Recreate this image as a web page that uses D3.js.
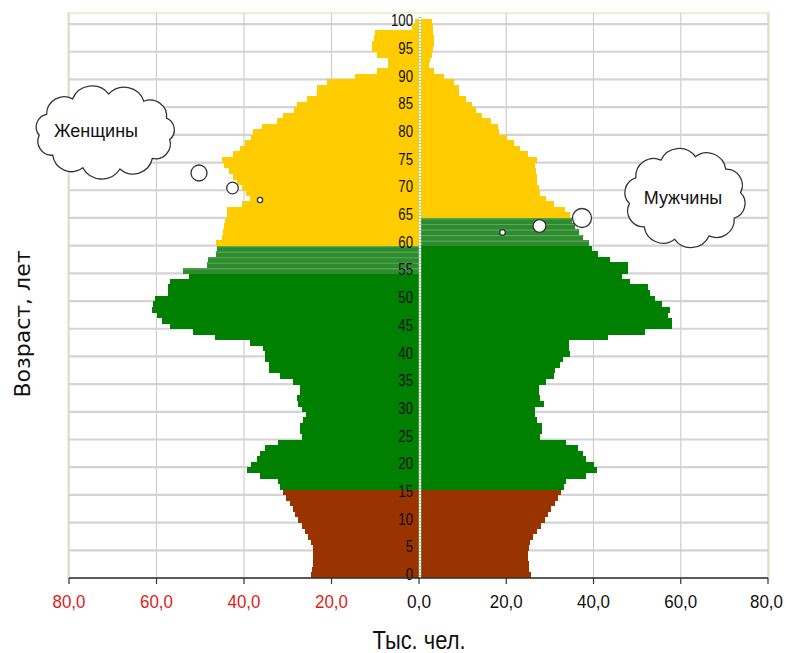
<!DOCTYPE html>
<html><head><meta charset="utf-8">
<script src="https://cdn.jsdelivr.net/npm/d3@7"></script>
<style>body{margin:0;background:#fff}svg{display:block}</style>
</head><body>
<svg id="c" width="786" height="653"></svg>
<script>
// ---- data ----
const ages = d3.range(0, 101);
const female = [24.7,24.5,24.3,24.2,24.2,24.3,24.7,25.3,26.1,26.8,
 27.6,28.3,28.9,29.6,30.4,31.0,31.8,32.2,36.3,39.4,
 38.3,37.1,36.3,35.2,32.2,26.8,27.3,27.2,26.5,25.9,
 26.8,27.6,28.0,27.2,27.2,28.7,31.8,34.4,34.4,35.2,
 35.2,35.6,38.6,46.6,51.6,56.9,58.8,60.0,61.1,60.7,
 60.3,57.3,57.3,56.9,52.5,53.9,48.5,48.2,46.5,46.2,
 46.4,45.0,44.8,44.5,44.3,44.0,44.0,40.5,38.6,39.5,
 40.5,41.5,42.5,43.5,44.5,45.1,42.5,40.9,39.8,38.5,
 38.0,36.0,32.5,31.0,28.5,28.0,25.7,23.4,23.4,21.1,
 14.6,9.7,7.0,7.0,9.7,10.8,10.8,10.2,10.0,1.5,1.0];
const male = [25.6,25.3,25.2,25.0,25.0,25.2,25.5,26.1,27.0,28.0,
 28.8,29.5,30.3,31.1,31.8,32.6,33.3,33.8,38.3,40.9,
 40.2,38.3,37.5,36.4,33.8,27.7,28.3,28.1,27.0,26.5,
 26.7,28.6,27.8,27.4,27.4,29.0,30.9,31.2,32.4,33.1,
 34.7,34.3,34.3,43.4,51.8,57.9,57.9,57.1,57.5,55.6,
 54.1,53.0,52.6,48.4,46.5,48.0,48.0,43.8,41.0,39.6,
 38.9,37.7,36.6,35.8,35.0,34.7,33.5,30.9,29.0,27.8,
 27.4,27.0,27.0,26.9,26.7,27.0,25.0,23.2,21.7,20.2,
 18.3,18.0,16.4,14.5,13.0,12.2,10.7,9.1,9.1,8.0,
 5.7,3.4,2.3,2.5,3.0,3.3,3.5,3.5,3.3,3.3,3.0];
// age-group boundaries: [childUpTo, workFrom, preRetireFrom, retireFrom]
const femaleGroups = [15, 16, 55, 60];
const maleGroups   = [15, 16, 60, 65];
const xTicks = [0, 20, 40, 60, 80];
const yTicks = d3.range(0, 101, 5);
const labels = {female: "Женщины", male: "Мужчины", x: "Тыс. чел.", y: "Возраст, лет"};

// ---- layout ----
const svg = d3.select("#c");
const W = 786;
const L = 69, R = 768, T = 13, B = 578, C = 419;
const xL = d3.scaleLinear().domain([0, 80]).range([C, L]);
const xR = d3.scaleLinear().domain([0, 80]).range([C, R]);
const y = d3.scaleLinear().domain([0, 102]).range([B, T]);
const colors = {child: "#993300", work: "#008000", pre: "#2e8b2e", retire: "#ffcc00"};
function grp(a, g) {
  if (a <= g[0]) return "child";
  if (a >= g[3]) return "retire";
  if (a >= g[2]) return "pre";
  return "work";
}
const sans = "'Liberation Sans',Arial,sans-serif";

// plot frame
svg.append("rect").attr("x", L - 1).attr("y", T).attr("width", R - L + 2).attr("height", B - T)
  .attr("fill", "#fff").attr("stroke", "#f0f0d0").attr("stroke-width", 2);

// grid
const grid = svg.append("g");
grid.selectAll("line.h").data(yTicks).join("line")
  .attr("x1", L).attr("x2", R).attr("y1", d => y(d)).attr("y2", d => y(d))
  .attr("stroke", "#d4d4d4").attr("stroke-width", 2.2);
const vt = xTicks.filter(d => d > 0);
grid.selectAll("line.vl").data(vt).join("line")
  .attr("x1", d => xL(d)).attr("x2", d => xL(d)).attr("y1", T).attr("y2", B)
  .attr("stroke", "#cfcfcf").attr("stroke-width", 1.2);
grid.selectAll("line.vr").data(vt).join("line")
  .attr("x1", d => xR(d)).attr("x2", d => xR(d)).attr("y1", T).attr("y2", B)
  .attr("stroke", "#cfcfcf").attr("stroke-width", 1.2);

// bars
const bars = svg.append("g").attr("shape-rendering", "crispEdges");
bars.selectAll("rect.f").data(ages).join("rect")
  .attr("x", a => xL(female[a])).attr("width", a => C - xL(female[a]))
  .attr("y", a => y(a + 1)).attr("height", a => y(a) - y(a + 1) + 0.4)
  .attr("fill", a => colors[grp(a, femaleGroups)]);
bars.selectAll("rect.m").data(ages).join("rect")
  .attr("x", C).attr("width", a => xR(male[a]) - C)
  .attr("y", a => y(a + 1)).attr("height", a => y(a) - y(a + 1) + 0.4)
  .attr("fill", a => colors[grp(a, maleGroups)]);
// highlight stripes for pre-retirement bars
const preF = ages.filter(a => grp(a, femaleGroups) === "pre");
const preM = ages.filter(a => grp(a, maleGroups) === "pre");
svg.append("g").selectAll("line").data(preF).join("line")
  .attr("x1", a => xL(female[a])).attr("x2", C).attr("y1", a => y(a + 1) + 1).attr("y2", a => y(a + 1) + 1)
  .attr("stroke", "#5aa85a").attr("stroke-width", 1.2);
svg.append("g").selectAll("line").data(preM).join("line")
  .attr("x1", C).attr("x2", a => xR(male[a])).attr("y1", a => y(a + 1) + 1).attr("y2", a => y(a + 1) + 1)
  .attr("stroke", "#5aa85a").attr("stroke-width", 1.2);

// centre line
svg.append("line").attr("x1", C + 1).attr("x2", C + 1).attr("y1", T + 2).attr("y2", B)
  .attr("stroke", "#9ecf9e").attr("stroke-width", 2.5);
svg.append("line").attr("x1", C + 1).attr("x2", C + 1).attr("y1", T + 2).attr("y2", B)
  .attr("stroke", "#fff").attr("stroke-width", 2).attr("stroke-dasharray", "2,1");

// age labels (narrowed)
svg.append("g").selectAll("text").data(yTicks).join("text")
  .attr("x", C - 6).attr("y", d => y(d) - 4).attr("dy", "0.36em")
  .attr("text-anchor", "end").attr("font-family", sans).attr("font-size", 17)
  .attr("textLength", d => String(d).length * 7.35).attr("lengthAdjust", "spacingAndGlyphs")
  .attr("fill", "#111").text(d => d);

// x axis
const fmt = d => d3.format(".1f")(d).replace(".", ",");
const ax = svg.append("g");
ax.append("line").attr("x1", L).attr("x2", R).attr("y1", B).attr("y2", B).attr("stroke", "#333").attr("stroke-width", 1.5);
const allT = [...xTicks.filter(d => d > 0).map(d => ({v: d, side: "L"})), ...xTicks.map(d => ({v: d, side: "R"}))];
const tx = d => d.side === "L" ? xL(d.v) : xR(d.v);
const tlen = d => fmt(d.v).length === 4 ? 33 : 24;
ax.selectAll("line.t").data(allT).join("line")
  .attr("x1", tx).attr("x2", tx)
  .attr("y1", B).attr("y2", B + 6).attr("stroke", "#333").attr("stroke-width", 1.2);
ax.selectAll("text").data(allT).join("text")
  .attr("x", d => Math.min(tx(d), W - tlen(d) / 2 - 3)).attr("y", 601).attr("dy", "0.36em")
  .attr("text-anchor", "middle").attr("font-family", sans).attr("font-size", 18.5)
  .attr("textLength", tlen).attr("lengthAdjust", "spacingAndGlyphs")
  .attr("fill", d => d.side === "L" ? "#e02020" : "#111").text(d => fmt(d.v));

// titles
svg.append("text").attr("x", C).attr("y", 640).attr("dy", "0.36em").attr("text-anchor", "middle")
  .attr("font-family", sans).attr("font-size", 25).attr("textLength", 93).attr("lengthAdjust", "spacingAndGlyphs")
  .attr("fill", "#111").text(labels.x);
svg.append("text").attr("transform", "translate(22,324) rotate(-90)").attr("dy", "0.36em").attr("text-anchor", "middle")
  .attr("font-family", "'DejaVu Sans',sans-serif").attr("font-size", 22).attr("fill", "#111").text(labels.y);

// clouds
function cloudPath(cx, cy, rx, ry, n, phase) {
  const pts = d3.range(n).map(i => {
    const t = phase + i / n * 2 * Math.PI;
    return [cx + rx * Math.cos(t), cy + ry * Math.sin(t)];
  });
  let d = `M${pts[0][0]},${pts[0][1]}`;
  for (let i = 0; i < n; i++) {
    const p = pts[i], q = pts[(i + 1) % n];
    const ch = Math.hypot(q[0] - p[0], q[1] - p[1]);
    const r = ch * 0.58;
    d += `A${r},${r} 0 0 1 ${q[0]},${q[1]}`;
  }
  return d + "Z";
}
const clouds = [
  {cx: 105, cy: 132, rx: 66, ry: 38, n: 11, ph: 0.2, text: labels.female, tx: 96, ty: 131},
  {cx: 685, cy: 198, rx: 56, ry: 42, n: 10, ph: 0.5, text: labels.male, tx: 683, ty: 198}
];
const bubbles = [
  {x: 199, y: 173, r: 8}, {x: 232.5, y: 188, r: 5.8}, {x: 260, y: 200, r: 2.6},
  {x: 582, y: 218, r: 9.5}, {x: 539.5, y: 226, r: 6.4}, {x: 502.5, y: 232.5, r: 2.8}
];
const cg = svg.append("g");
clouds.forEach(c => {
  cg.append("path").attr("d", cloudPath(c.cx, c.cy, c.rx, c.ry, c.n, c.ph))
    .attr("fill", "#fff").attr("stroke", "#333").attr("stroke-width", 1.3);
  cg.append("text").attr("x", c.tx).attr("y", c.ty).attr("dy", "0.35em").attr("text-anchor", "middle")
    .attr("font-family", sans).attr("font-size", 18).attr("fill", "#111").text(c.text);
});
cg.selectAll("circle").data(bubbles).join("circle")
  .attr("cx", d => d.x).attr("cy", d => d.y).attr("r", d => d.r)
  .attr("fill", "#fff").attr("stroke", "#333").attr("stroke-width", 1.3);
</script>
</body></html>
